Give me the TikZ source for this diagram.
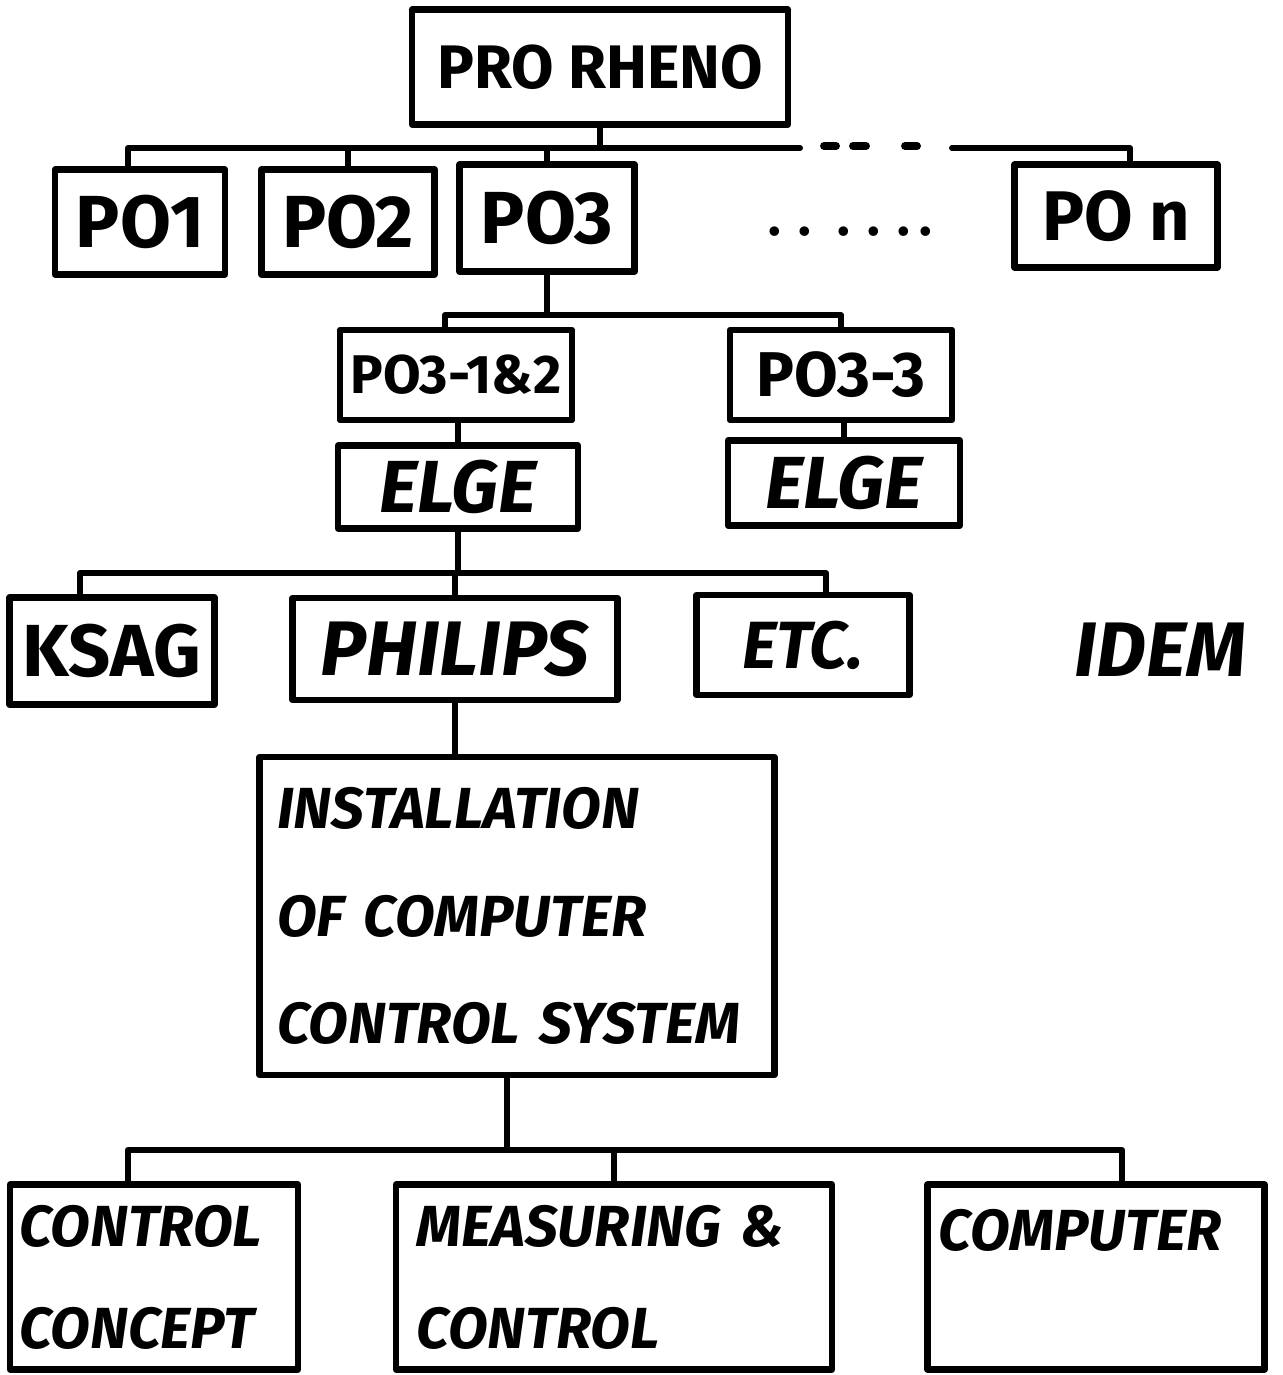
\documentclass[tikz,border=0pt]{standalone}
\usepackage{fontspec}
\setmainfont{Fira Sans}
\begin{document}
\begin{tikzpicture}[x=0.02cm,y=-0.02cm,
  line width=3.4pt, line cap=round, line join=round,
  box/.style n args={2}{draw, line width=3.6pt, minimum width=#1*0.02cm,
     minimum height=#2*0.02cm, inner sep=0pt},
  fs/.style={font=\fontsize{#1}{#1}\selectfont\bfseries},
  fsi/.style={font=\fontsize{#1}{#1}\selectfont\bfseries\itshape},
  hand/.style={font=\fontsize{33}{58}\selectfont\bfseries\itshape},
  bus/.style={line width=3.4pt},
  dash seg/.style={line width=4.5pt}]
\useasboundingbox[fill=white] (0,0) rectangle (1283,1375);

% level 0
\node[box={376}{115}, fs=35] (pro) at (600,67) {PRO RHENO};

% level 1
\node[box={170}{105}, fs=42] (po1) at (140,222) {PO1};
\node[box={173}{105}, fs=42] (po2) at (348,222) {PO2};
\node[box={175}{107}, fs=42] (po3) at (547,218) {PO3};
\node[fs=30] (dots) at (850,232) {.\,\,.\,\,\,.\,\,.\,\,.\,.};
\node[box={203}{103}, fs=40] (pon) at (1116,216) {PO n};

% level 2
\node[box={232}{90}, fs=31] (p312) at (456,375) {PO3-1\&2};
\node[box={222}{90}, fs=36] (p33) at (841,375) {PO3-3};
\node[box={240}{83}, fsi=42] (elge1) at (458,487) {ELGE};
\node[box={232}{85}, fsi=42] (elge2) at (844,483) {ELGE};

% level 3
\node[box={205}{107}, fs=42] (ksag) at (112,651) {KSAG};
\node[box={325}{102}, fsi=44] (philips) at (455,649) {PHILIPS};
\node[box={213}{100}, fsi=38] (etc) at (803,645) {ETC.};
\node[fsi=44] (idem) at (1160,650) {IDEM};

% level 4
\node[box={515}{318}, align=left, text width=9.6cm,
      font=\fontsize{33}{61}\selectfont\bfseries\itshape] (inst) at (517,916)
  {INSTALLATION\\OF COMPUTER\\CONTROL SYSTEM};

% level 5
\node[box={288}{185}, hand, align=left, text width=5.4cm] (cc) at (154,1277)
  {CONTROL\\CONCEPT};
\node[box={436}{185}, hand, align=left, text width=7.9cm] (mc) at (614,1277)
  {MEASURING \&\\CONTROL};
\node[box={337}{185}, hand, align=left, text width=6.3cm] (comp) at (1096,1277)
  {COMPUTER\\[-22pt]\strut};

% connectors: top bus
\coordinate (b1) at (600,148);
\coordinate (b1r) at (800,148);
\coordinate (d1a) at (824,146); \coordinate (d1b) at (836,146);
\coordinate (d2a) at (853,146); \coordinate (d2b) at (866,146);
\coordinate (d3a) at (905,146); \coordinate (d3b) at (917,146);
\coordinate (b1s) at (952,148);
\draw[bus] (pro.south) -- (b1);
\draw[bus] ([xshift=-0.24cm]po1.north) |- (b1) -- (b1r);
\draw[bus] (po2.north) -- (po2.north |- b1);
\draw[bus] (po3.north) -- (po3.north |- b1);
\draw[bus] ([xshift=0.28cm]pon.north) |- (b1s);
\draw[dash seg] (d1a) -- (d1b);
\draw[dash seg] (d2a) -- (d2b);
\draw[dash seg] (d3a) -- (d3b);

% PO3 branch
\coordinate (b2) at (542,315);
\draw[bus] (po3.south) -- (po3.south |- b2);
\draw[bus] ([xshift=-0.22cm]p312.north) |- (b2) -| (p33.north);
\draw[bus] (elge1.north) -- (elge1.north |- p312.south);
\draw[bus] (elge2.north) -- (elge2.north |- p33.south);

% ELGE branch
\coordinate (b3) at (455,573);
\draw[bus] (elge1.south) -- (elge1.south |- b3);
\draw[bus] ([xshift=-0.64cm]ksag.north) |- (b3) -| ([xshift=0.46cm]etc.north);
\draw[bus] (philips.north) -- (philips.north |- b3);

% PHILIPS to installation
\draw[bus] (philips.south) -- (philips.south |- inst.north);

% installation branch
\coordinate (b4) at (507,1150);
\draw[bus] ([xshift=-0.2cm]inst.south) -- ([xshift=-0.2cm]inst.south |- b4);
\draw[bus] ([xshift=-0.52cm]cc.north) |- (b4) -| ([xshift=0.52cm]comp.north);
\draw[bus] (mc.north) -- (mc.north |- b4);
\end{tikzpicture}
\end{document}
